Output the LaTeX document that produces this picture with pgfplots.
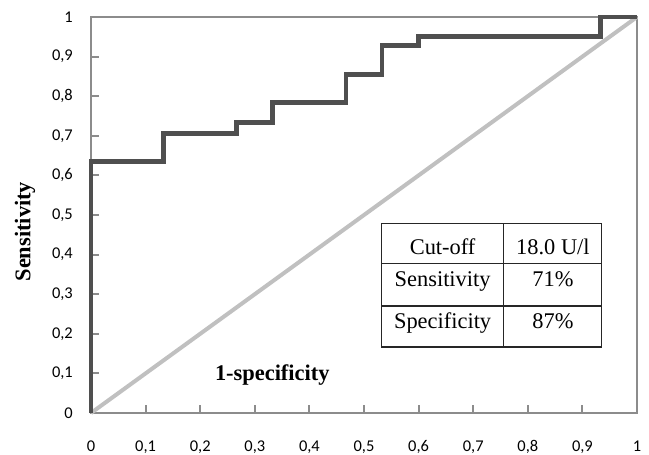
\documentclass[border=0pt]{standalone}
\usepackage{pgfplots}
\pgfplotsset{compat=1.18}
\usepackage{fontspec}
\setmainfont{Liberation Serif}
\newfontfamily\carlito{Carlito}
\definecolor{axgray}{HTML}{8C8C8C}
\definecolor{rocgray}{HTML}{4F4F4F}
\definecolor{diaggray}{HTML}{C0C0C0}
\begin{document}
\begin{tikzpicture}
\path[use as bounding box] (-91bp,-42bp) rectangle (558bp,413bp);
\begin{axis}[
  at={(0,0)}, anchor=south west,
  scale only axis,
  width=546bp, height=396bp,
  xmin=0, xmax=1, ymin=0, ymax=1,
  xtick={0,0.1,0.2,0.3,0.4,0.5,0.6,0.7,0.8,0.9,1},
  ytick={0,0.1,0.2,0.3,0.4,0.5,0.6,0.7,0.8,0.9,1},
  xticklabels={0,{0,1},{0,2},{0,3},{0,4},{0,5},{0,6},{0,7},{0,8},{0,9},1},
  yticklabels={0,{0,1},{0,2},{0,3},{0,4},{0,5},{0,6},{0,7},{0,8},{0,9},1},
  tick pos=left, tick align=inside,
  major tick length=8bp,
  tick style={draw=axgray, line width=2bp},
  axis line style={draw=axgray, line width=2.6bp},
  ticklabel style={font=\carlito\fontsize{16.5}{16.5}\selectfont, text=black},
  xticklabel style={inner sep=0pt, anchor=north, text height=10.5bp, text depth=1bp, yshift=-28bp},
  yticklabel style={inner sep=0pt, anchor=east, xshift=-18bp},
  ylabel={\bfseries Sensitivity},
  ylabel style={font=\fontsize{22.5}{22.5}\selectfont, at={(axis description cs:-0.121,0.458)}, anchor=center, rotate=0},
  clip=false,
]
\addplot[draw=diaggray, line width=4bp] coordinates {(0,0) (1,1)};
\addplot[draw=rocgray, line width=4.8bp] coordinates {
(0,0) (0,0.636) (0.133,0.636) (0.133,0.706) (0.267,0.706) (0.267,0.733)
(0.333,0.733) (0.333,0.784) (0.467,0.784) (0.467,0.854) (0.533,0.854)
(0.533,0.929) (0.6,0.929) (0.6,0.95) (0.933,0.95) (0.933,1) (1,1)};
\node[anchor=base, font=\fontsize{22.5}{22.5}\selectfont\bfseries] at (axis cs:0.332,0.083) {1-specificity};
\draw[black!85, line width=1.3bp] (axis cs:0.532,0.167) rectangle (axis cs:0.935,0.479);
\draw[black!85, line width=1.3bp] (axis cs:0.532,0.378) -- (axis cs:0.935,0.378);
\draw[black!85, line width=1.3bp] (axis cs:0.532,0.270) -- (axis cs:0.935,0.270);
\draw[black!85, line width=1.3bp] (axis cs:0.756,0.167) -- (axis cs:0.756,0.479);
\begin{scope}[every node/.style={anchor=base, font=\fontsize{22.5}{22.5}\selectfont}]
\node at (axis cs:0.644,0.3997) {Cut-off};
\node at (axis cs:0.846,0.3997) {18.0 U/l};
\node at (axis cs:0.644,0.319) {Sensitivity};
\node at (axis cs:0.846,0.319) {71\%};
\node at (axis cs:0.644,0.214) {Specificity};
\node at (axis cs:0.846,0.214) {87\%};
\end{scope}
\end{axis}
\end{tikzpicture}
\end{document}
